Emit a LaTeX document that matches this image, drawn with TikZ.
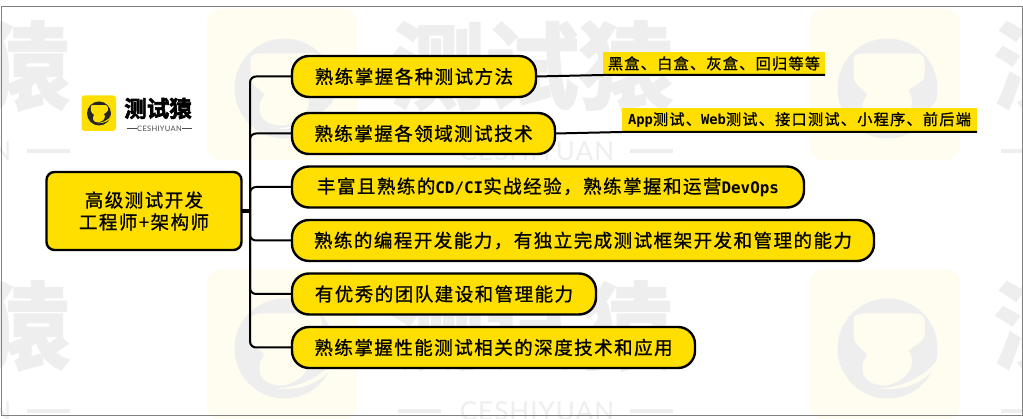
\documentclass[tikz,border=0pt]{standalone}
\usepackage{fontspec}
\newfontfamily\cjk[LetterSpace=8,RawFeature={embolden=0.9}]{Noto Sans CJK SC}
\newfontfamily\cjkw[RawFeature={embolden=2.5}]{Noto Sans CJK SC Bold}
\newfontfamily\lat{DejaVu Sans Mono Bold}
\newfontfamily\wmlat[LetterSpace=4]{Lato}
\definecolor{ky}{HTML}{FFDF00}
\definecolor{wmg}{HTML}{EEEEEE}
\definecolor{wmy}{HTML}{FFFDF0}
\definecolor{frm}{HTML}{808080}
\newcommand{\kbshape}{(-34,-28) .. controls (-34,-33) and (-30,-35) .. (-24,-35) -- (29,-35) .. controls (34,-35) and (37,-32) .. (37,-27) -- (37,-13) .. controls (37,-6) and (25,-3) .. (21,2) .. controls (28,12) and (26,30) .. (-1,37) .. controls (-15,37) and (-26,32) .. (-25,18) .. controls (-25,10) and (-19,8) .. (-21,5) .. controls (-28,-2) and (-34,-5) .. (-34,-13) -- cycle}
\newcommand{\kbswoosh}{(52,8) .. controls (46,30) and (22,43) .. (-8,40) .. controls (12,39) and (38,30) .. cycle}
\newcommand{\pillfont}{\fontsize{18.5}{21}\selectfont\cjk}
\tikzset{
  x=1pt,y=-1pt,
  pill/.style={draw=black,fill=ky,line width=2.4pt,rounded corners=17,inner sep=0pt,outer sep=0pt,minimum height=41,font=\pillfont,anchor=center},
  rootbox/.style={draw=black,fill=ky,line width=2.4pt,rounded corners=8,inner sep=0pt,outer sep=0pt,font=\pillfont,align=center},
  leaf/.style={fill=ky,inner sep=0pt,outer sep=0pt,font=\fontsize{15.2}{18}\selectfont\cjk},
  conn/.style={draw=black,line width=2pt},
  wmword/.style={text=wmg,inner sep=0pt,font=\fontsize{94}{94}\selectfont\cjkw},
  wmsub/.style={text=wmg,inner sep=0pt,font=\fontsize{26}{26}\selectfont\wmlat},
  wmdash/.style={draw=wmg,line width=4pt},
}
\begin{document}
\begin{tikzpicture}
\useasboundingbox (0,0) rectangle (1023,419);
\begin{scope}
\clip (0,0) rectangle (1023,419);
\fill[white] (0,0) rectangle (1023,419);
% watermark tiles
\foreach \yy in {0,260}{
  \foreach \xx in {-603,0,603}{
    \begin{scope}[shift={(\xx,\yy)}]
      \fill[wmy,rounded corners=14] (207,9) rectangle (357,160);
      \begin{scope}[shift={(284.5,88.5)}]
        \fill[wmg] (0,0) circle[radius=50];
        \fill[wmy] \kbshape;
        \fill[wmy] \kbswoosh;
      \end{scope}
      \node[wmword] (wm\xx\yy) at (532,66) {测试猿};
      \node[wmsub] (ws\xx\yy) at (537,151) {CESHIYUAN};
      \draw[wmdash] (398,151) -- (441,151);
      \draw[wmdash] (630,151) -- (673,151);
    \end{scope}
  }
}
\end{scope}
% frame
\draw[frm,line width=0.9pt] (1,6.5) -- (1022.5,6.5) -- (1022.5,415) -- (1,415) -- cycle;
% logo
\fill[ky,rounded corners=3] (81.5,95.5) rectangle (116,131);
\begin{scope}[shift={(99,113.5)},scale=0.24]
  \fill[black!85] (0,0) circle[radius=50];
  \fill[ky] \kbshape;
  \fill[ky] \kbswoosh;
\end{scope}
\node[inner sep=0pt,font=\fontsize{22.5}{24}\selectfont\cjkw] (logo) at (158,108.5) {测试猿};
\node[inner sep=0pt,text=black!70,font=\fontsize{7.5}{8}\selectfont\wmlat] (logosub) at (159.5,128.5) {CESHIYUAN};
\draw[black!70,line width=0.8pt] (127,128.5) -- (137,128.5) (182,128.5) -- (192,128.5);
% root
\node[rootbox,minimum width=195,minimum height=78] (root) at (144,211) {高级测试开发\\[1pt]工程师+架构师};
\coordinate (hub) at (250,211);
% pills
\node[pill,minimum width=244] (p1) at (414,76.5) {熟练掌握各种测试方法\hspace{4pt}};
\node[pill,minimum width=263] (p2) at (423.5,133.5) {熟练掌握各领域测试技术\hspace{4pt}};
\node[pill,minimum width=512] (p3) at (548,187) {丰富且熟练的{\fontsize{15.9}{18}\selectfont\lat CD/CI}实战经验，熟练掌握和运营{\fontsize{15.9}{18}\selectfont\lat DevOps}\hspace{4pt}};
\node[pill,minimum width=582] (p4) at (583,240.5) {熟练的编程开发能力，有独立完成测试框架开发和管理的能力\hspace{4pt}};
\node[pill,minimum width=304] (p5) at (444,294) {有优秀的团队建设和管理能力\hspace{4pt}};
\node[pill,minimum width=403] (p6) at (493.5,347.5) {熟练掌握性能测试相关的深度技术和应用\hspace{4pt}};
% leaves
\node[leaf,minimum width=222,minimum height=23] (l1) at (714,63.5) {黑盒、白盒、灰盒、回归等等\hspace{2pt}};
\node[leaf,minimum width=355,minimum height=24] (l2) at (799.5,120) {{\fontsize{13.8}{16}\selectfont\lat App}测试、{\fontsize{13.8}{16}\selectfont\lat Web}测试、接口测试、小程序、前后端};
% connectors
\draw[conn,line width=3.5pt] (root.east) -- (hub);
\foreach \p in {p1,p2,p3,p4,p5,p6}{
  \draw[conn,rounded corners=6] (hub) |- (\p.west);
}
\draw[conn] (p1.east) -- (l1.south west) -- (l1.south east);
\draw[conn] (p2.east) -- (l2.south west) -- (l2.south east);
\end{tikzpicture}
\end{document}
